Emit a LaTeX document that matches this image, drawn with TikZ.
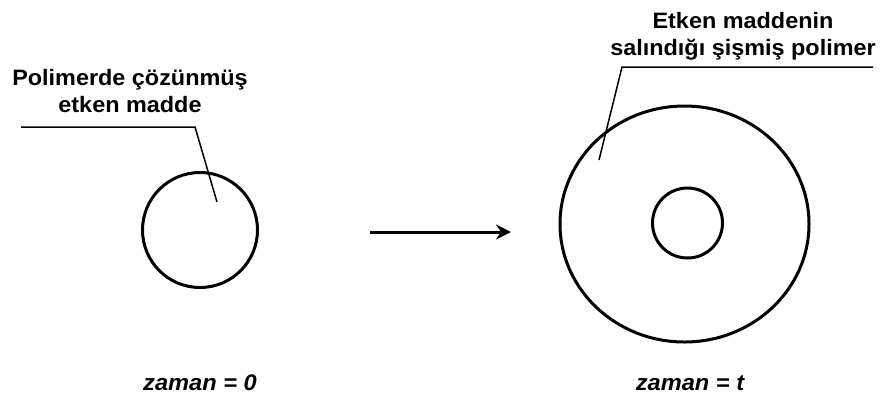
\documentclass[tikz,border=0pt]{standalone}
\usepackage{fontspec}
\newfontfamily\labfont[FakeStretch=1.05]{Liberation Sans}
\usepackage{tikz}
\usetikzlibrary{arrows.meta, positioning, shapes.geometric}

\begin{document}
\begin{tikzpicture}[
  x=1pt, y=-1pt,
  ring/.style={draw=black, line width=3pt, inner sep=0pt},
  lead/.style={draw=black, line width=1.5pt},
  arr/.style={-{Stealth[length=15pt, width=15pt, inset=5pt]}, line width=3pt},
  lbl/.style={font=\labfont\fontsize{22.3}{27.5}\selectfont\bfseries, align=center, inner sep=0pt},
  tlbl/.style={font=\labfont\fontsize{22.5}{27.5}\selectfont\bfseries\itshape, inner sep=0pt}
]
  \useasboundingbox (0,0) rectangle (880,400);

  % before: drug dissolved in polymer
  \node[ring, circle, minimum size=115pt] (drug0) at (200,230) {};
  \node[lbl, anchor=north] (lab0) at (130,69) {Polimerde çözünmüş\\etken madde};
  \coordinate (l0a) at (21,127);
  \coordinate (l0b) at (195,127);
  \coordinate (l0c) at (217,202);
  \draw[lead] (l0a) -- (l0b) -- (l0c);

  % after: swollen polymer with remaining core
  \node[ring, ellipse, minimum width=249pt, minimum height=236pt] (swollen) at (684.5,224) {};
  \node[ring, circle, minimum size=70pt] (core) at (687.5,223) {};
  \node[lbl, anchor=north] (labt) at (743,12) {Etken maddenin\\salındığı şişmiş polimer};
  \coordinate (lta) at (873,67);
  \coordinate (ltb) at (622,67);
  \coordinate (ltc) at (599,160);
  \draw[lead] (lta) -- (ltb) -- (ltc);

  % time step
  \coordinate (as) at (370,232);
  \coordinate (ae) at (511,232);
  \draw[arr] (as) -- (ae);

  \foreach \n/\x/\t in {z0/200/0, zt/690/t}{
    \node[tlbl, anchor=base] (\n) at (\x,390) {zaman = \t};
  }
\end{tikzpicture}
\end{document}
